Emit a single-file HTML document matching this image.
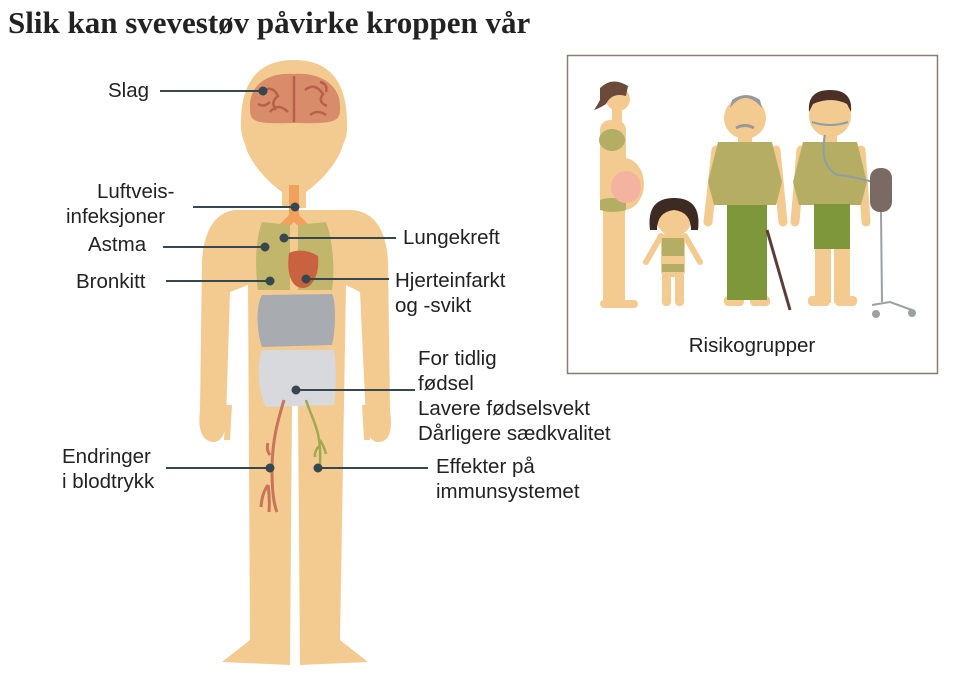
<!DOCTYPE html>
<html><head><meta charset="utf-8"><style>
body{margin:0;background:#fff;width:970px;height:690px;overflow:hidden}
svg{display:block}
text{font-family:"Liberation Sans",sans-serif;fill:#222;font-size:20.5px}
</style></head><body>
<svg width="970" height="690" viewBox="0 0 970 690">
<text x="8" y="33" style="font-family:'Liberation Serif',serif;font-weight:bold;font-size:31px">Slik kan svevestøv påvirke kroppen vår</text>
<!-- body -->
<g fill="#f3cb91">
<path d="M294 60 C252 60 240 90 241 128 C242 140 246 145 246 148 C252 165 268 182 282 192 L282 208 L306 208 L306 192 C320 182 336 165 342 148 C342 145 347 140 347 128 C348 90 336 60 294 60Z"/>
<path d="M236 210 L352 210 C376 212 386 232 388 260 L390 410 C392 425 392 440 380 442 C370 443 366 432 366 420 L360 292 L346 285 L340 640 L368 662 L300 665 L298 402 L292 402 L290 665 L222 662 L250 640 L248 285 L230 292 L226 420 C226 432 222 443 212 442 C200 440 198 425 200 410 L202 260 C204 232 214 212 236 210Z"/>
<path d="M226 405 L232 405 L230 440 L224 440Z M362 405 L368 405 L370 440 L364 440Z"/>
</g>
<!-- brain -->
<path d="M250 110 C248 85 268 72 294 74 C320 72 342 85 340 110 C340 122 332 124 294 123 C256 124 250 122 250 110Z" fill="#d98c6a"/>
<path d="M294 76 L294 122 M262 92 q10 -8 16 4 q-8 6 -2 14 M270 112 q8 -10 18 0 M305 90 q10 -8 18 4 q-6 8 4 12 M310 115 q8 -6 16 0 M258 104 q6 4 12 -2 M320 82 q8 2 6 10" stroke="#b8604a" stroke-width="2.5" fill="none"/>
<!-- trachea -->
<path d="M289 185 L299 185 L299 215 L312 228 L306 233 L294 222 L282 233 L276 228 L289 215Z" fill="#f2a15c"/>
<!-- lungs -->
<path d="M262 222 C255 240 255 270 258 290 L290 290 L290 225 Z" fill="#c1b66b"/>
<path d="M326 222 C333 240 335 270 332 290 L298 290 L298 225 Z" fill="#c1b66b"/>
<path d="M289 253 C300 248 312 252 318 256 C320 275 312 288 303 288 C292 288 286 275 289 253Z" fill="#c9623e"/>
<!-- intestines -->
<path d="M262 295 L332 294 C336 300 336 330 332 345 L262 347 C256 330 256 305 262 295Z" fill="#a8abb0"/>
<path d="M262 350 L334 350 C337 370 336 390 334 405 L266 407 C257 390 257 365 262 350Z" fill="#d7d9dc"/>
<path d="M284 400 C278 420 272 440 272 470 C272 490 274 505 277 512 M270 455 q-4 -5 -2 -12 M268 485 q-6 8 -7 22 M268 485 q2 15 1 27" stroke="#c97359" stroke-width="3" fill="none"/>
<path d="M306 400 C312 420 322 430 320 465 M320 440 q4 6 6 14 M320 445 q-6 6 -5 12" stroke="#a1a950" stroke-width="2.5" fill="none"/>
<!-- leader lines -->
<g stroke="#37474f" stroke-width="2" fill="#37474f">
<line x1="160" y1="91" x2="263" y2="91"/><circle cx="263" cy="91" r="3.5"/>
<line x1="193" y1="207" x2="295" y2="207"/><circle cx="295" cy="207" r="3.5"/>
<line x1="163" y1="247" x2="265" y2="247"/><circle cx="265" cy="247" r="3.5"/>
<line x1="284" y1="238" x2="396" y2="238"/><circle cx="284" cy="238" r="3.5"/>
<line x1="166" y1="281" x2="270" y2="281"/><circle cx="270" cy="281" r="3.5"/>
<line x1="306" y1="279" x2="389" y2="279"/><circle cx="306" cy="279" r="3.5"/>
<line x1="296" y1="390" x2="415" y2="390"/><circle cx="296" cy="390" r="3.5"/>
<line x1="166" y1="468" x2="270" y2="468"/><circle cx="270" cy="468" r="3.5"/>
<line x1="318" y1="468" x2="428" y2="468"/><circle cx="318" cy="468" r="3.5"/>
</g>
<text x="108" y="97">Slag</text>
<text x="97" y="198">Luftveis-</text>
<text x="66" y="223">infeksjoner</text>
<text x="88" y="251">Astma</text>
<text x="76" y="288">Bronkitt</text>
<text x="403" y="244">Lungekreft</text>
<text x="395" y="287">Hjerteinfarkt</text>
<text x="395" y="312">og -svikt</text>
<text x="418" y="365">For tidlig</text>
<text x="418" y="390">fødsel</text>
<text x="418" y="415">Lavere fødselsvekt</text>
<text x="418" y="440">Dårligere sædkvalitet</text>
<text x="62" y="463">Endringer</text>
<text x="62" y="488">i blodtrykk</text>
<text x="436" y="473">Effekter på</text>
<text x="436" y="498">immunsystemet</text>
<!-- risk box -->
<rect x="567.5" y="55.5" width="370" height="318" fill="#fff" stroke="#8a7a70" stroke-width="1.5"/>
<g fill="#f3cb91">
<circle cx="618" cy="99" r="12"/><rect x="612" y="108" width="10" height="14"/>
<rect x="600" y="120" width="26" height="90" rx="10"/>
<rect x="603" y="200" width="11" height="105" rx="5"/><rect x="614" y="200" width="11" height="105" rx="5"/>
<rect x="600" y="300" width="38" height="8" rx="4"/>
<ellipse cx="624" cy="184" rx="20" ry="26"/>
<circle cx="674" cy="218" r="18"/>
<rect x="661" y="233" width="24" height="44" rx="6"/>
<rect x="662" y="270" width="9" height="36" rx="4"/><rect x="675" y="270" width="9" height="36" rx="4"/>
<path d="M661 236 L646 262 M685 236 L700 262" stroke="#f3cb91" stroke-width="6" stroke-linecap="round"/>
<circle cx="745" cy="118" r="21"/><rect x="738" y="132" width="14" height="12"/>
<path d="M716 150 L708 222 M776 150 L783 222" stroke="#f3cb91" stroke-width="9" stroke-linecap="round"/>
<rect x="724" y="296" width="20" height="10" rx="4"/><rect x="750" y="296" width="20" height="10" rx="4"/>
<circle cx="830" cy="116" r="21"/><rect x="823" y="130" width="14" height="12"/>
<path d="M801 150 L795 222 M861 150 L866 222" stroke="#f3cb91" stroke-width="9" stroke-linecap="round"/>
<rect x="815" y="245" width="16" height="58"/><rect x="834" y="245" width="16" height="58"/>
<rect x="808" y="296" width="22" height="10" rx="4"/><rect x="835" y="296" width="22" height="10" rx="4"/>
</g>
<path d="M600 88 q12 -12 28 -2 l-2 10 q-14 -4 -20 8 q-6 4 -12 6 q4 -6 6 -10z" fill="#6b4a3a"/>
<ellipse cx="612" cy="140" rx="13" ry="11" fill="#b4ad64"/>
<path d="M600 200 q10 -4 26 0 l0 10 q-14 4 -26 0z" fill="#b4ad64"/>
<ellipse cx="626" cy="187" rx="15" ry="16" fill="#f4b3a0"/>
<path d="M650 230 q-4 -32 24 -32 q28 0 24 32 l-7 0 q0 -18 -17 -20 q-17 2 -17 20z" fill="#3d2a22"/>
<rect x="662" y="238" width="22" height="18" fill="#b4ad64"/><rect x="662" y="264" width="22" height="8" fill="#b4ad64"/>
<path d="M730 108 q15 -20 32 0 l-2 -8 q-14 -10 -28 0z" fill="#999"/>
<path d="M736 128 q9 -5 18 0" stroke="#999" stroke-width="3" fill="none"/>
<path d="M718 142 L772 142 L782 182 L776 205 L714 205 L708 182Z" fill="#b6ad64"/>
<rect x="727" y="205" width="40" height="95" fill="#7d973a"/>
<path d="M767 230 L790 310" stroke="#5a3e35" stroke-width="3"/>
<path d="M803 142 L857 142 L867 182 L861 205 L799 205 L793 182Z" fill="#b6ad64"/>
<rect x="814" y="204" width="36" height="45" fill="#7d973a"/>
<path d="M809 112 q-2 -22 21 -22 q23 0 21 22 l-4 -8 q-16 -8 -34 0z" fill="#4a3026"/>
<path d="M812 122 q18 6 36 0 M825 135 q-6 30 12 40 q10 0 40 8" stroke="#8aa0a6" stroke-width="2" fill="none"/>
<rect x="870" y="168" width="22" height="44" rx="10" fill="#7a6a63"/>
<path d="M881 212 L882 302 M872 305 L890 302 L912 310" stroke="#9aa0a3" stroke-width="2" fill="none"/>
<circle cx="876" cy="314" r="4" fill="#9aa0a3"/><circle cx="912" cy="313" r="4" fill="#9aa0a3"/>
<text x="752" y="352" text-anchor="middle">Risikogrupper</text>
</svg>
</body></html>
